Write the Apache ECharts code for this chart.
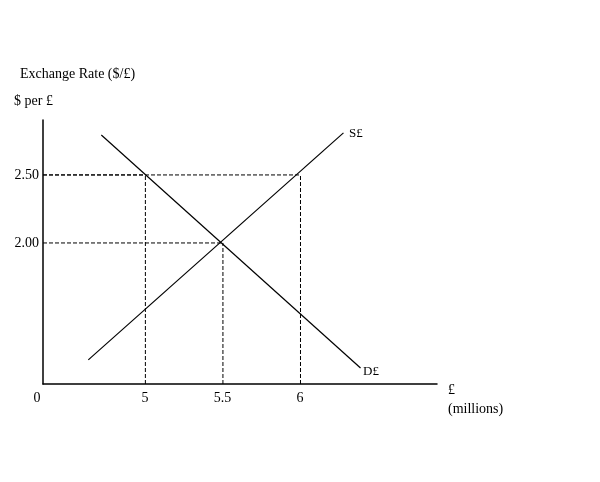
<!DOCTYPE html><html><head><meta charset="utf-8"><script src="https://cdn.jsdelivr.net/npm/echarts@6/dist/echarts.min.js"></script></head><body style="margin:0;background:#fff"><div id="c" style="width:600px;height:482px"></div><script>
const xTicks=[5,5.5,6];
const yTicks=[2.0,2.5];
const supply=[[4.632,1.14],[6.277,2.809]];
const demand=[[4.716,2.794],[6.387,1.081]];
const eqPoints=[[5,2.5],[5.5,2.0],[6,2.5]];
const F='Liberation Serif';
const ch=echarts.init(document.getElementById('c'));
const dash={type:'dashed',color:'#000',width:1};
const series=[
 {type:'line',data:supply,symbol:'none',lineStyle:{color:'#000',width:1.2},silent:true},
 {type:'line',data:demand,symbol:'none',lineStyle:{color:'#000',width:1.2},silent:true}
];
eqPoints.forEach(p=>{
 series.push({type:'line',data:[[p[0],0.963],p],symbol:'none',lineStyle:dash,silent:true});
 series.push({type:'line',data:[[4.34,p[1]],p],symbol:'none',lineStyle:dash,silent:true});
});
ch.setOption({animation:false,
 grid:{left:43,right:163,top:120,bottom:98},
 xAxis:{type:'value',min:4.34,max:6.88,splitLine:{show:false},axisLine:{onZero:false,lineStyle:{color:'#000',width:1.5}},axisTick:{show:false},
  axisLabel:{show:false}},
 yAxis:{type:'value',min:0.963,max:2.904,splitLine:{show:false},axisLine:{show:true,lineStyle:{color:'#000',width:1.5}},axisTick:{show:false},axisLabel:{show:false}},
 series:series,
 graphic:[
  {type:'text',left:20,top:67,style:{text:'Exchange Rate ($/£)',font:'14px '+F,fill:'#000'}},
  {type:'text',left:14,top:94,style:{text:'$ per £',font:'14px '+F,fill:'#000'}},
  ...yTicks.map(v=>({type:'text',style:{text:v.toFixed(2),font:'14px '+F,fill:'#000',textAlign:'right',textVerticalAlign:'middle'},x:39,y:243-(v-2)*136})),
  ...xTicks.map(v=>({type:'text',style:{text:String(v),font:'14px '+F,fill:'#000',textAlign:'center'},x:145+(v-5)*155,y:391})),
  {type:'text',x:37,y:391,style:{text:'0',font:'14px '+F,fill:'#000',textAlign:'center'}},
  {type:'text',x:349,y:127,style:{text:'S£',font:'13px '+F,fill:'#000'}},
  {type:'text',x:363,y:365,style:{text:'D£',font:'13px '+F,fill:'#000'}},
  {type:'text',x:448,y:383,style:{text:'£',font:'14px '+F,fill:'#000'}},
  {type:'text',x:448,y:402,style:{text:'(millions)',font:'14px '+F,fill:'#000'}}
 ]});
</script></body></html>
